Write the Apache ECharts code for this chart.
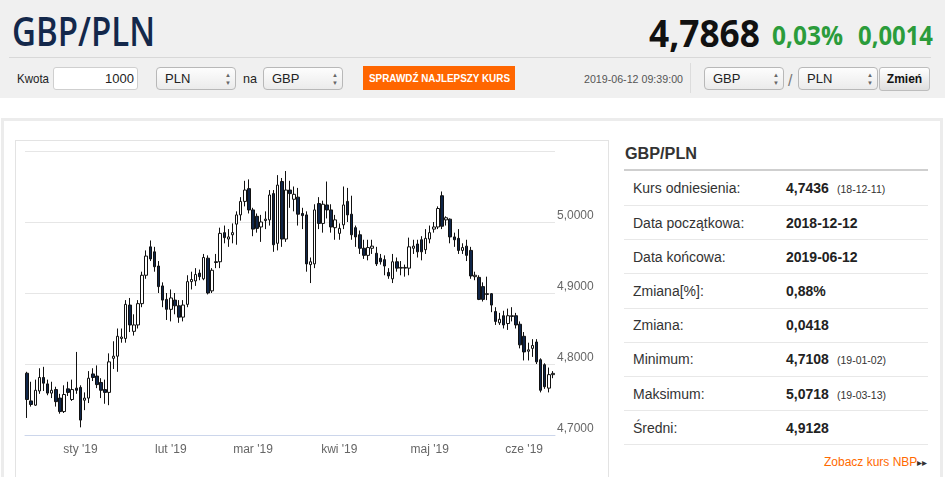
<!DOCTYPE html>
<html><head><meta charset="utf-8">
<script src="https://cdn.jsdelivr.net/npm/echarts@6/dist/echarts.min.js"></script>
<style>
html,body{margin:0;padding:0;width:945px;height:477px;overflow:hidden;background:#fff;font-family:"Liberation Sans",Arial,sans-serif;}
.a{position:absolute;box-sizing:border-box;}
.t{position:absolute;white-space:nowrap;transform-origin:0 50%;}
</style></head><body>
<div id="page"></div>
<div id="chart" class="a" style="left:0;top:0;width:945px;height:477px;"></div>
<script>
// ---- data ----
const dates = [
"2018-12-12","2018-12-13","2018-12-14","2018-12-17","2018-12-18","2018-12-19","2018-12-20","2018-12-21","2018-12-24","2018-12-26","2018-12-27","2018-12-28","2018-12-31",
"2019-01-02","2019-01-03","2019-01-04","2019-01-07","2019-01-08","2019-01-09","2019-01-10","2019-01-11","2019-01-14","2019-01-15","2019-01-16","2019-01-17","2019-01-18","2019-01-21","2019-01-22","2019-01-23","2019-01-24","2019-01-25","2019-01-28","2019-01-29","2019-01-30","2019-01-31",
"2019-02-01","2019-02-04","2019-02-05","2019-02-06","2019-02-07","2019-02-08","2019-02-11","2019-02-12","2019-02-13","2019-02-14","2019-02-15","2019-02-18","2019-02-19","2019-02-20","2019-02-21","2019-02-22","2019-02-25","2019-02-26","2019-02-27","2019-02-28",
"2019-03-01","2019-03-04","2019-03-05","2019-03-06","2019-03-07","2019-03-08","2019-03-11","2019-03-12","2019-03-13","2019-03-14","2019-03-15","2019-03-18","2019-03-19","2019-03-20","2019-03-21","2019-03-22","2019-03-25","2019-03-26","2019-03-27","2019-03-28","2019-03-29",
"2019-04-01","2019-04-02","2019-04-03","2019-04-04","2019-04-05","2019-04-08","2019-04-09","2019-04-10","2019-04-11","2019-04-12","2019-04-15","2019-04-16","2019-04-17","2019-04-18","2019-04-19","2019-04-22","2019-04-23","2019-04-24","2019-04-25","2019-04-26","2019-04-29","2019-04-30",
"2019-05-01","2019-05-02","2019-05-03","2019-05-06","2019-05-07","2019-05-08","2019-05-09","2019-05-10","2019-05-13","2019-05-14","2019-05-15","2019-05-16","2019-05-17","2019-05-20","2019-05-21","2019-05-22","2019-05-23","2019-05-24","2019-05-27","2019-05-28","2019-05-29","2019-05-30","2019-05-31",
"2019-06-03","2019-06-04","2019-06-05","2019-06-06","2019-06-07","2019-06-10","2019-06-11","2019-06-12"];

const opens = [
4.787,4.748,4.742,4.762,4.781,4.772,4.759,4.764,4.752,4.733,
4.765,4.750,4.766,4.767,4.749,4.752,4.786,4.783,4.774,4.764,
4.760,4.808,4.811,4.836,4.836,4.883,4.846,4.855,4.885,4.925,
4.965,4.958,4.938,4.910,4.891,4.877,4.890,4.882,4.866,4.884,
4.916,4.917,4.928,4.920,4.949,4.903,4.944,4.944,4.985,4.976,
4.982,4.997,5.010,5.029,5.047,5.017,5.008,4.993,5.002,5.003,
5.040,4.970,5.057,4.976,5.045,5.032,5.035,5.012,5.010,4.940,
4.941,5.026,4.998,5.024,5.017,4.992,4.984,4.996,5.029,5.011,
4.992,4.982,4.963,4.953,4.963,4.956,4.949,4.947,4.929,4.920,
4.944,4.935,4.935,4.935,4.963,4.969,4.975,4.961,4.976,4.990,
4.993,5.037,5.003,5.004,4.979,4.977,4.960,4.966,4.960,4.923,
4.922,4.909,4.898,4.899,4.874,4.858,4.868,4.857,4.867,4.868,
4.856,4.839,4.818,4.822,4.831,4.806,4.799,4.766,4.785];

const closes = [
4.750,4.743,4.763,4.781,4.773,4.759,4.763,4.747,4.733,4.757,
4.760,4.764,4.763,4.721,4.752,4.780,4.781,4.771,4.763,4.760,
4.803,4.811,4.839,4.838,4.884,4.855,4.855,4.885,4.925,4.952,
4.948,4.937,4.909,4.890,4.877,4.893,4.882,4.866,4.883,4.916,
4.919,4.926,4.923,4.950,4.900,4.932,4.943,4.984,4.978,4.979,
4.985,5.010,5.029,5.045,5.017,4.990,4.991,5.000,5.004,5.038,
4.968,5.052,4.976,5.045,5.040,5.039,5.011,5.009,4.941,4.944,
5.017,4.998,5.025,5.017,4.993,5.003,4.991,5.024,5.010,4.982,
4.979,4.963,4.953,4.964,4.966,4.941,4.944,4.938,4.924,4.944,
4.935,4.936,4.936,4.965,4.966,4.958,4.958,4.977,4.985,4.993,
5.019,4.994,5.006,4.979,4.975,4.960,4.964,4.953,4.924,4.925,
4.891,4.891,4.899,4.883,4.860,4.863,4.855,4.868,4.868,4.855,
4.827,4.817,4.820,4.826,4.803,4.763,4.768,4.785,4.7868];

const lows = [
4.724,4.740,4.741,4.758,4.762,4.756,4.752,4.740,4.730,4.731,
4.755,4.748,4.758,4.7108,4.735,4.745,4.776,4.766,4.752,4.744,
4.742,4.793,4.789,4.830,4.830,4.845,4.840,4.850,4.880,4.920,
4.945,4.930,4.900,4.880,4.862,4.860,4.870,4.858,4.860,4.880,
4.905,4.910,4.918,4.918,4.898,4.900,4.935,4.935,4.970,4.965,
4.970,4.968,5.002,5.022,5.012,4.980,4.985,4.972,4.990,4.995,
4.958,4.960,4.965,4.972,5.020,5.015,4.995,4.990,4.930,4.914,
4.935,4.990,4.985,5.005,4.985,4.975,4.975,4.990,5.000,4.975,
4.965,4.955,4.948,4.946,4.955,4.938,4.940,4.925,4.920,4.914,
4.930,4.925,4.923,4.925,4.955,4.950,4.946,4.955,4.970,4.985,
4.990,4.990,4.995,4.970,4.965,4.955,4.955,4.945,4.920,4.918,
4.890,4.888,4.890,4.873,4.855,4.855,4.850,4.848,4.860,4.850,
4.822,4.805,4.805,4.810,4.800,4.760,4.765,4.760,4.780];

const highs = [
4.789,4.775,4.778,4.794,4.796,4.778,4.775,4.768,4.758,4.770,
4.775,4.778,4.817,4.770,4.760,4.790,4.794,4.798,4.780,4.778,
4.815,4.832,4.850,4.850,4.890,4.893,4.870,4.890,4.930,4.960,
4.974,4.965,4.945,4.915,4.900,4.905,4.900,4.890,4.890,4.925,
4.930,4.935,4.933,4.955,4.953,4.935,4.955,4.992,4.995,4.990,
4.998,5.015,5.035,5.058,5.060,5.020,5.012,5.010,5.015,5.045,
5.045,5.066,5.062,5.0718,5.058,5.050,5.048,5.020,5.015,4.950,
5.025,5.035,5.030,5.057,5.025,5.010,4.998,5.050,5.048,5.037,
4.995,4.988,4.975,4.975,4.975,4.965,4.955,4.953,4.935,4.955,
4.950,4.945,4.940,4.978,4.975,4.975,4.980,4.990,4.995,5.000,
5.022,5.043,5.008,5.005,4.985,4.990,4.970,4.975,4.965,4.930,
4.925,4.915,4.923,4.900,4.880,4.872,4.875,4.878,4.880,4.872,
4.860,4.845,4.830,4.835,4.835,4.808,4.801,4.795,4.790];

const monthNames = ['sty','lut','mar','kwi','maj','cze','lip','sie','wrz','paź','lis','gru'];
const yMin = 4.7, yMax = 5.1, yStep = 0.1;

const infoLabels = ["Kurs odniesienia:","Data początkowa:","Data końcowa:","Zmiana[%]:","Zmiana:","Minimum:","Maksimum:","Średni:"];
const infoValues = ["4,7436","2018-12-12","2019-06-12","0,88%","0,0418","4,7108","5,0718","4,9128"];
const infoNotes  = ["(18-12-11)","","","","","(19-01-02)","(19-03-13)",""];

// ---- page ----
const page = document.getElementById('page');
function R(x,y,w,h,css){const d=document.createElement('div');d.className='a';d.style.cssText+=`left:${x}px;top:${y}px;width:${w}px;height:${h}px;`+(css||'');page.appendChild(d);return d;}
function T(txt,x,cy,size,o){o=o||{};const d=document.createElement('div');d.className='t';d.textContent=txt;
  const lh=Math.round(size*1.3);d.style.top=(cy-lh/2)+'px';d.style.lineHeight=lh+'px';d.style.height=lh+'px';
  d.style.fontSize=size+'px';d.style.fontWeight=o.b||'normal';d.style.color=o.c||'#333';if(o.f)d.style.fontFamily=o.f;
  d.style.left=x+'px';page.appendChild(d);
  let w=d.getBoundingClientRect().width;
  if(o.w&&w>0){d.style.transform='scaleX('+(o.w/w)+')';w=o.w;}
  if(o.al==='right')d.style.left=(x-w)+'px';
  if(o.al==='center')d.style.left=(x-w/2)+'px';
  return d;}
function SEL(x,label){R(x,67,80,23,'border:1px solid #b8b8b8;border-radius:4px;background:linear-gradient(#fdfdfd,#ebebeb);');
  T(label,x+9,78.5,13,{c:'#222'});T('▲',x+69,74.5,6,{c:'#666'});T('▼',x+69,82.5,6,{c:'#666'});}

R(0,0,945,98,'background:#f0f0f0;');
R(9,57,922,1,'background:#d8d8d8;');
T('GBP/PLN',12,31,40,{b:600,c:'#14284b',w:143,f:'"Open Sans",sans-serif'});
T('4,7868',649,32,38,{b:'bold',c:'#111',w:111,f:'"Open Sans",sans-serif'});
T('0,03%',772,34,27,{b:'bold',c:'#2b9c3b',w:71,f:'"Open Sans",sans-serif'});
T('0,0014',858,34,27,{b:'bold',c:'#2b9c3b',w:75,f:'"Open Sans",sans-serif'});

T('Kwota',17,78.5,13,{c:'#222',w:32});
R(53,67,85,23,'background:#fff;border:1px solid #cfcfcf;border-radius:3px;');
T('1000',134,78.5,13,{c:'#222',al:'right'});
SEL(156,'PLN');
T('na',243,78.5,13,{c:'#222',w:14});
SEL(263,'GBP');
R(363,66,152,24,'background:#ff6600;');
T('SPRAWDŹ NAJLEPSZY KURS',439,78,11,{b:'bold',c:'#fff',w:141,al:'center'});
T('2019-06-12 09:39:00',584,79,11,{c:'#555',w:99});
R(690,63,1,30,'background:#dcdcdc;');
SEL(704,'GBP');
T('/',788,80,16,{c:'#777'});
SEL(798,'PLN');
R(879,67,51,24,'border:1px solid #bdbdbd;border-radius:3px;background:linear-gradient(#ffffff,#dedede);');
T('Zmień',904.5,79,12,{b:'bold',c:'#111',al:'center'});

// frames
R(1,118,942,380,'border:3px solid #ececec;');
R(15,140,594,360,'border:1px solid #e3e3e3;');

// right panel
T('GBP/PLN',625,153,16,{b:'bold',c:'#333',w:72});
R(624,169,304,2,'background:#cfcfcf;');
for(let i=0;i<infoLabels.length;i++){
  const cy=188.3+i*34.2;
  T(infoLabels[i],633,cy,14,{c:'#333'});
  T(infoValues[i],786,cy,14,{b:'bold',c:'#222'});
  if(infoNotes[i])T(infoNotes[i],837,cy+1,10.5,{c:'#333'});
  R(624,Math.round(205+i*34.2),304,1,'background:#e8e8e8;');
}
T('Zobacz kurs NBP',824,462,12,{c:'#ff6a00'});
T('▸▸',917,462,10,{c:'#333'});

// ---- chart ----
const candles = dates.map((d,i)=>[opens[i],closes[i],lows[i],highs[i]]);
const isMonthStart = (idx)=> idx>0 && dates[idx].slice(5,7)!==dates[idx-1].slice(5,7);
const chart = echarts.init(document.getElementById('chart'));
chart.setOption({
  animation:false,
  grid:{left:25,top:151,width:530,height:284,containLabel:false},
  xAxis:{type:'category',data:dates,boundaryGap:true,
    axisLine:{lineStyle:{color:'#ccd6eb'}},
    axisTick:{alignWithLabel:true,interval:(i)=>isMonthStart(i),length:7,lineStyle:{color:'#ccd6eb'}},
    axisLabel:{interval:(i)=>isMonthStart(i),formatter:(v)=>monthNames[parseInt(v.slice(5,7),10)-1]+" '"+v.slice(2,4),
      color:'#666',fontSize:12,margin:9,fontFamily:'"Liberation Sans",Arial,sans-serif'},
    splitLine:{show:false}},
  yAxis:{type:'value',position:'right',min:yMin,max:yMax,interval:yStep,
    axisLine:{show:false},axisTick:{show:false},
    splitLine:{lineStyle:{color:'#e6e6e6',width:1}},
    axisLabel:{showMaxLabel:false,formatter:(v)=>v.toFixed(4).replace('.',','),color:'#666',fontSize:12,margin:2,
      verticalAlign:'bottom',align:'left',fontFamily:'"Liberation Sans",Arial,sans-serif'}},
  series:[{type:'candlestick',data:candles,barWidth:3,
    itemStyle:{color:'#ffffff',color0:'#0f2548',borderColor:'#111',borderColor0:'#111',borderWidth:1}}]
});
</script>
</body></html>
